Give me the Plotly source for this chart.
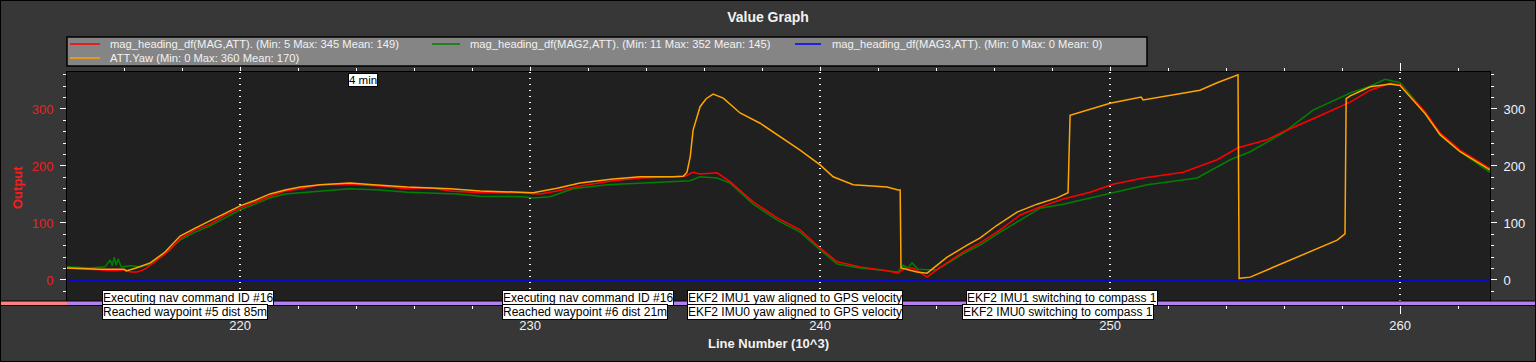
import plotly.graph_objects as go

# ---------------- data (x in Line Number 10^3, y in degrees) ----------------
MAG_X = [214.03, 215.00, 215.69, 216.03, 216.21, 216.45, 216.72, 217.07, 217.59, 217.93,
         218.45, 218.97, 219.48, 220.00, 220.52, 221.03, 221.55, 222.07, 222.76, 223.79,
         224.83, 225.76, 226.55, 227.24, 228.28, 229.66, 230.34, 230.93, 231.72, 232.86,
         233.79, 234.93, 235.34, 235.62, 235.86, 236.45, 236.90, 237.69, 238.52, 239.31,
         240.00, 240.59, 241.38, 242.31, 242.69, 242.93, 243.21, 243.69, 244.03, 244.93,
         245.52, 246.21, 246.90, 247.59, 248.38, 249.31, 250.10, 251.14, 252.52, 253.69,
         254.41, 255.41, 255.97, 257.14, 258.28, 258.97, 259.66, 260.00, 260.86, 261.38,
         262.07, 263.10]
MAG_Y = [21, 18, 16, 18, 14, 14, 19, 32, 53, 72,
         88, 98, 114, 126, 137, 147, 156, 160, 167, 168,
         165, 160, 162, 156, 153, 153, 151, 156, 165, 174,
         179, 181, 182, 189, 186, 188, 172, 137, 109, 88,
         56, 32, 23, 16, 12, 21, 21, 5, 18, 49,
         65, 88, 114, 128, 142, 154, 168, 179, 189, 211,
         232, 246, 260, 286, 312, 333, 345, 342, 295, 258,
         228, 196]

MAG2_X = [214.03, 214.83, 215.34, 215.52, 215.59, 215.66, 215.72, 215.79, 215.90, 216.21,
          216.55, 216.90, 217.41, 217.93, 218.45, 218.97, 219.48, 220.00, 220.52, 221.03,
          221.55, 222.07, 222.76, 223.79, 224.83, 225.76, 227.48, 228.28, 229.76, 230.10,
          230.69, 231.48, 232.66, 233.79, 235.52, 235.86, 236.45, 236.90, 237.69, 238.52,
          239.31, 240.00, 240.59, 241.38, 242.31, 242.69, 242.86, 243.03, 243.17, 243.38,
          243.69, 244.03, 244.93, 245.52, 246.21, 246.90, 247.59, 248.38, 249.31, 250.10,
          251.28, 253.00, 253.69, 254.14, 254.83, 255.97, 257.00, 258.28, 258.97, 259.48,
          260.00, 260.86, 261.38, 262.07, 263.10]
MAG2_Y = [23, 21, 23, 35, 25, 40, 26, 37, 23, 25,
          23, 28, 47, 70, 84, 95, 109, 123, 133, 144,
          151, 153, 156, 160, 158, 154, 151, 147, 146, 144,
          146, 160, 167, 170, 174, 181, 179, 170, 133, 105,
          84, 53, 28, 21, 16, 14, 26, 21, 30, 19,
          18, 18, 46, 61, 84, 105, 126, 133, 144, 154,
          167, 179, 198, 211, 225, 258, 298, 328, 340, 352,
          346, 295, 254, 225, 189]

MAG3_X = [214.03, 263.10]
MAG3_Y = [0, 0]

YAW_X = [214.03, 215.17, 216.00, 216.07, 216.41, 216.90, 217.41, 217.93, 218.45, 218.97,
         219.48, 220.00, 220.52, 221.03, 221.55, 222.07, 222.76, 223.79, 224.59, 225.76,
         227.24, 228.28, 229.66, 230.10, 230.93, 231.72, 232.86, 233.79, 234.93, 235.28,
         235.41, 235.52, 235.62, 235.86, 236.07, 236.31, 236.66, 237.24, 237.93, 238.62,
         239.31, 240.00, 240.45, 241.14, 242.31, 242.69, 242.76, 242.79, 243.34, 243.69,
         243.90, 244.38, 245.07, 245.52, 246.10, 246.79, 247.48, 248.17, 248.55, 248.62,
         250.00, 251.07, 251.14, 252.52, 253.10, 253.69, 254.41, 254.45, 254.48, 254.83,
         255.97, 257.14, 257.83, 258.10, 258.14, 258.28, 258.97, 259.66, 260.00, 260.86,
         261.38, 262.07, 263.10]
YAW_Y = [21, 19, 19, 16, 21, 30, 49, 77, 91, 104,
         118, 130, 140, 151, 158, 163, 167, 170, 167, 163,
         160, 156, 154, 153, 161, 170, 177, 181, 181, 182,
         189, 216, 263, 304, 318, 326, 319, 293, 275, 251,
         228, 202, 181, 167, 163, 158, 158, 21, 14, 12,
         21, 40, 61, 74, 96, 119, 133, 144, 153, 289,
         310, 321, 316, 328, 333, 346, 360, 0, 3, 5,
         30, 56, 70, 81, 318, 323, 339, 344, 341, 292,
         255, 225, 193]

SERIES_NAMES = ["mag_heading_df(MAG,ATT). (Min: 5 Max: 345 Mean: 149)",
                "mag_heading_df(MAG2,ATT). (Min: 11 Max: 352 Mean: 145)",
                "mag_heading_df(MAG3,ATT). (Min: 0 Max: 0 Mean: 0)",
                "ATT.Yaw (Min: 0 Max: 360 Mean: 170)"]
SERIES_COLORS = ["#ff0000", "#008000", "#0000ff", "#ffa500"]

EVENT_X = [215.24, 229.03, 235.41, 245.03]
EVENT_TOP = ["Executing nav command ID #16", "Executing nav command ID #16",
             "EKF2 IMU1 yaw aligned to GPS velocity", "EKF2 IMU1 switching to compass 1"]
EVENT_BOT_X = [215.24, 229.03, 235.41, 244.90]
EVENT_BOT = ["Reached waypoint #5 dist 85m", "Reached waypoint #6 dist 21m",
             "EKF2 IMU0 yaw aligned to GPS velocity", "EKF2 IMU0 switching to compass 1"]
TIME_MARK_X = 223.72
TIME_MARK = "4 min"

X_RANGE = [214.03, 263.10]
Y_RANGE = [-43.9, 364.9]
Y_TICKS = [0, 100, 200, 300]
X_TICKS = [220, 230, 240, 250, 260]

# ---------------- layout geometry ----------------
W, H = 1536, 362
L, R, T, B = 67, 46, 72, 57
PW, PH = W - L - R, H - T - B


def px(xp):
    return (xp - L) / PW


def py(yp):
    return (H - B - yp) / PH


FONT = "Liberation Sans, Arial, sans-serif"

fig = go.Figure()
fig.add_trace(go.Scatter(x=MAG2_X, y=MAG2_Y, mode="lines", name=SERIES_NAMES[1],
                         line=dict(color=SERIES_COLORS[1], width=1.5)))
fig.add_trace(go.Scatter(x=MAG_X, y=MAG_Y, mode="lines", name=SERIES_NAMES[0],
                         line=dict(color=SERIES_COLORS[0], width=1.5)))
fig.add_trace(go.Scatter(x=YAW_X, y=YAW_Y, mode="lines", name=SERIES_NAMES[3],
                         line=dict(color=SERIES_COLORS[3], width=1.5)))
fig.add_trace(go.Scatter(x=MAG3_X, y=MAG3_Y, mode="lines", name=SERIES_NAMES[2],
                         line=dict(color=SERIES_COLORS[2], width=1.5), yaxis="y2"))

shapes = []
annotations = []

# bottom band (salmon left of plot, lavender across)
shapes.append(dict(type="rect", xref="paper", yref="paper", x0=px(0), x1=px(L), y0=py(305), y1=py(301),
                   fillcolor="#ff8080", line=dict(width=0), layer="above"))
shapes.append(dict(type="rect", xref="paper", yref="paper", x0=px(L), x1=px(W), y0=py(305), y1=py(301),
                   fillcolor="#b57ff2", line=dict(width=0), layer="above"))
shapes.append(dict(type="line", xref="paper", yref="paper", x0=px(0), x1=px(W), y0=py(301), y1=py(301),
                   line=dict(color="black", width=1), layer="above"))
shapes.append(dict(type="line", xref="paper", yref="paper", x0=px(0), x1=px(W), y0=py(305.5), y1=py(305.5),
                   line=dict(color="black", width=1), layer="above"))
# outer border
shapes.append(dict(type="rect", xref="paper", yref="paper", x0=px(0.5), x1=px(W - 0.5), y0=py(H - 0.5), y1=py(0.5),
                   line=dict(color="black", width=1), fillcolor="rgba(0,0,0,0)", layer="above"))

# manual legend box
shapes.append(dict(type="rect", xref="paper", yref="paper", x0=px(67), x1=px(1147), y0=py(66), y1=py(37),
                   fillcolor="#858585", line=dict(color="black", width=1.5), layer="above"))
legend_pos = [(70, 100, 44, 108), (432, 460, 44, 468), (795, 821, 44, 830), (70, 100, 58, 108)]
for (x0, x1, yy, tx), name, col in zip(legend_pos, SERIES_NAMES, SERIES_COLORS):
    shapes.append(dict(type="line", xref="paper", yref="paper", x0=px(x0), x1=px(x1), y0=py(yy), y1=py(yy),
                       line=dict(color=col, width=1.5), layer="above"))
    annotations.append(dict(xref="paper", yref="paper", x=px(tx), y=py(yy), text=name, showarrow=False,
                            xanchor="left", yanchor="middle", font=dict(family=FONT, size=11.2, color="#f2f2f2")))

# time marker
annotations.append(dict(xref="x", yref="paper", x=TIME_MARK_X, y=py(80.5), text=TIME_MARK, showarrow=False,
                        xanchor="left", yanchor="middle", bgcolor="white", bordercolor="black", borderwidth=1,
                        borderpad=0, font=dict(family=FONT, size=11.5, color="black")))

# event labels
for ex, t in zip(EVENT_X, EVENT_TOP):
    annotations.append(dict(xref="x", yref="paper", x=ex, y=py(297.5), text=t, showarrow=False,
                            xanchor="left", yanchor="middle", bgcolor="white", bordercolor="black",
                            borderwidth=1, borderpad=0, font=dict(family=FONT, size=12, color="black")))
for ex, t in zip(EVENT_BOT_X, EVENT_BOT):
    annotations.append(dict(xref="x", yref="paper", x=ex, y=py(312), text=t, showarrow=False,
                            xanchor="left", yanchor="middle", bgcolor="white", bordercolor="black",
                            borderwidth=1, borderpad=0, font=dict(family=FONT, size=12, color="black")))

# axis titles
annotations.append(dict(xref="paper", yref="paper", x=px(768), y=py(343), text="<b>Line Number (10^3)</b>",
                        showarrow=False, xanchor="center", yanchor="middle",
                        font=dict(family=FONT, size=13, color="#f2f2f2")))
annotations.append(dict(xref="paper", yref="paper", x=px(17), y=py(188), text="<b>Output</b>",
                        showarrow=False, xanchor="center", yanchor="middle", textangle=-90,
                        font=dict(family=FONT, size=13, color="#ff1a1a")))

fig.update_layout(
    width=W, height=H,
    margin=dict(l=L, r=R, t=T, b=B),
    paper_bgcolor="#373737",
    plot_bgcolor="#202020",
    showlegend=False,
    title=dict(text="<b>Value Graph</b>", x=0.5, xanchor="center", y=1 - 17 / H, yref="container",
               yanchor="middle", font=dict(family=FONT, size=14, color="#f2f2f2")),
    xaxis=dict(range=X_RANGE, tickvals=X_TICKS, ticks="outside", ticklen=8, tickcolor="white",
               tickfont=dict(family=FONT, size=13, color="#f2f2f2"),
               showgrid=True, gridcolor="white", griddash="1px,5px", gridwidth=1.5,
               zeroline=False, showline=True, linecolor="black", linewidth=1, mirror="ticks",
               minor=dict(dtick=2, ticks="outside", ticklen=3, tickcolor="white", showgrid=False)),
    yaxis=dict(range=Y_RANGE, tickvals=Y_TICKS, ticks="outside", ticklen=6, tickcolor="white",
               tickfont=dict(family=FONT, size=13, color="#f02020"), ticklabelstandoff=4,
               showgrid=False, zeroline=False, showline=True, linecolor="black", linewidth=1,
               minor=dict(dtick=20, ticks="outside", ticklen=3, tickcolor="white", showgrid=False)),
    yaxis2=dict(range=Y_RANGE, tickvals=Y_TICKS, overlaying="y", side="right", ticks="outside", ticklen=6,
                tickcolor="white", tickfont=dict(family=FONT, size=13, color="#eef3ff"), ticklabelstandoff=4,
                showgrid=False, zeroline=False, showline=True, linecolor="black", linewidth=1,
                minor=dict(dtick=20, ticks="outside", ticklen=3, tickcolor="white", showgrid=False)),
    shapes=shapes,
    annotations=annotations,
)

fig.write_html("out.html",
               config={"displayModeBar": False},
               post_script="document.body.style.margin='0';document.body.style.padding='0';"
                           "document.body.style.overflow='hidden';")
